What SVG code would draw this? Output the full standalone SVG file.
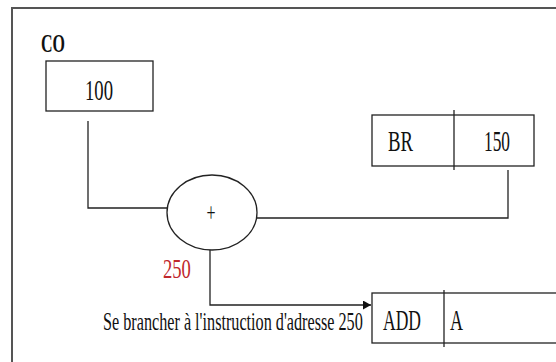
<svg xmlns="http://www.w3.org/2000/svg" width="556" height="362" viewBox="0 0 556 362">
<defs>
<style>
.ln{fill:none;stroke:#222;stroke-width:1.3}
.bx{fill:#fff;stroke:#222;stroke-width:1.3}
.t{font-family:"Liberation Serif","Times New Roman",serif;fill:#111}
</style>
<marker id="arr" markerWidth="9" markerHeight="9" refX="8" refY="4.5" orient="auto" markerUnits="userSpaceOnUse">
<path d="M0,0 L8,4.5 L0,9 Z" fill="#111"/>
</marker>
</defs>
<rect x="0" y="0" width="556" height="362" fill="#fff"/>
<path d="M12,362 V8 H556" fill="none" stroke="#555" stroke-width="2"/>
<g id="connectors">
<path class="ln" d="M88,121 V208 H167"/>
<path class="ln" d="M257,218 H508 V170"/>
<path class="ln" d="M210,250 V305 H371" marker-end="url(#arr)"/>
</g>
<g id="co">
<text class="t" transform="translate(41,52) scale(0.615,1)" font-size="26" font-weight="bold">CO</text>
<rect class="bx" x="46" y="61" width="107" height="50"/>
<text class="t" transform="translate(85,100) scale(0.644,1)" font-size="29">100</text>
</g>
<g id="br">
<rect class="bx" x="372" y="115" width="162" height="51"/>
<line class="ln" x1="454" y1="110" x2="454" y2="170"/>
<text class="t" transform="translate(388,151) scale(0.646,1)" font-size="29">BR</text>
<text class="t" transform="translate(484,151) scale(0.598,1)" font-size="29">150</text>
</g>
<g id="adder">
<ellipse class="bx" cx="212" cy="212.5" rx="45" ry="37.5"/>
<text class="t" transform="translate(206.5,221.5) scale(0.57,1)" font-size="28">+</text>
</g>
<g id="result">
<text class="t" transform="translate(163,278) scale(0.69,1)" font-size="27" style="fill:#c0272d">250</text>
</g>
<g id="label">
<text class="t" transform="translate(103,330) scale(0.648,1)" font-size="25">Se brancher à l'instruction d'adresse 250</text>
</g>
<g id="add">
<rect class="bx" x="372" y="293" width="190" height="50"/>
<line class="ln" x1="444" y1="290" x2="444" y2="347"/>
<text class="t" transform="translate(383,330) scale(0.605,1)" font-size="29">ADD</text>
<text class="t" transform="translate(450,330) scale(0.62,1)" font-size="29">A</text>
</g>
</svg>
